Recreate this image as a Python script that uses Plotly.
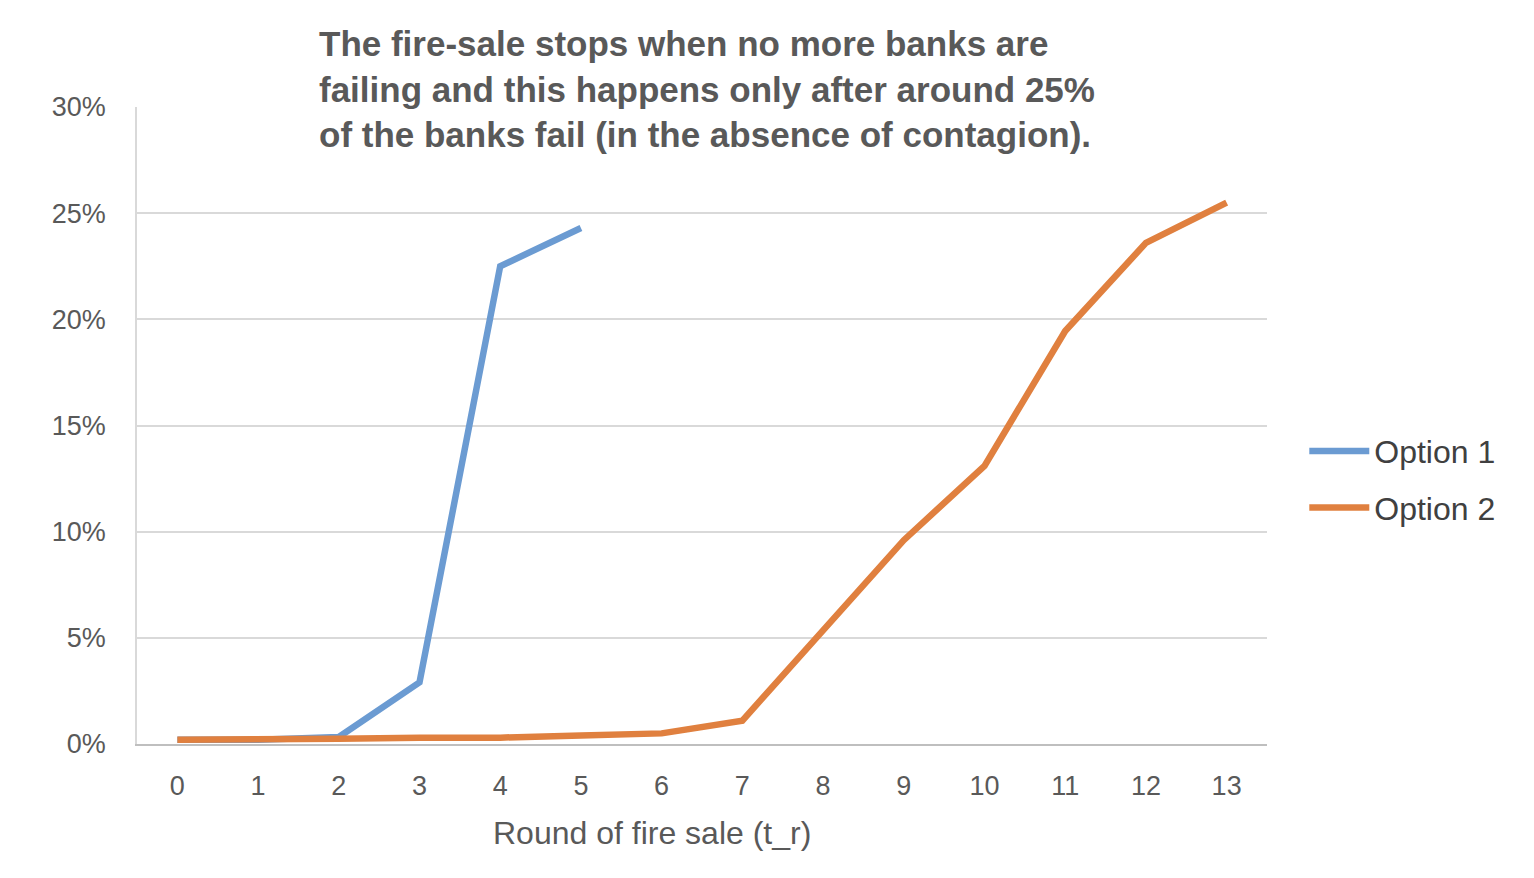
import plotly.graph_objects as go

rounds = list(range(14))
option_1 = [0.002, 0.002, 0.0033, 0.029, 0.225, 0.243]
option_2 = [0.002, 0.002, 0.0025, 0.003, 0.003, 0.004, 0.005, 0.011,
            0.053, 0.096, 0.131, 0.1945, 0.236, 0.255]
y_ticks = [0, 0.05, 0.10, 0.15, 0.20, 0.25, 0.30]

title_text = ("The fire-sale stops when no more banks are<br>"
              "failing and this happens only after around 25%<br>"
              "of the banks fail (in the absence of contagion).")

fig = go.Figure()
fig.add_trace(go.Scatter(
    x=rounds[:len(option_1)], y=option_1, name="Option 1", mode="lines",
    legendgroup="o1", line=dict(color="#6B9BD2", width=6.5)
))
fig.add_trace(go.Scatter(
    x=rounds, y=option_2, name="Option 2", mode="lines",
    legendgroup="o2", line=dict(color="#E0803F", width=6.5)
))

# page is drawn with an 8px body offset, margins account for it
fig.update_layout(
    width=1534, height=878,
    margin=dict(l=129, r=275, t=99, b=142),
    plot_bgcolor="white", paper_bgcolor="white",
    font=dict(family="Liberation Sans, Arial, sans-serif", size=27, color="#595959"),
    legend=dict(x=1.033, y=0.415, xanchor="left", yanchor="middle",
                traceorder="grouped", tracegroupgap=12, itemwidth=60,
                font=dict(size=32, color="#404040")),
)
fig.update_xaxes(
    tickmode="array", tickvals=rounds, ticktext=[str(r) for r in rounds],
    range=[-0.5, 13.5], showgrid=False, zeroline=False,
    showline=True, linecolor="#BFBFBF", linewidth=1.5,
    ticks="", ticklabelstandoff=17,
)
fig.update_yaxes(
    tickvals=y_ticks, tickformat=".0%", range=[0, 0.30],
    showgrid=True, gridcolor="#D9D9D9", gridwidth=1.5, zeroline=False,
    showline=True, linecolor="#D9D9D9", linewidth=1.5, ticks="", ticklabelstandoff=24,
)
fig.add_annotation(
    xref="paper", yref="paper", x=0.456, y=-0.14, xanchor="center", yanchor="middle",
    text="Round of fire sale (t_r)", showarrow=False,
    font=dict(size=32, color="#595959"),
)
fig.add_annotation(
    xref="paper", yref="paper", x=0.1457, y=1.029, xanchor="left", yanchor="middle",
    text="<b>" + title_text + "</b>", showarrow=False, align="left",
    font=dict(size=35, color="#595959"), bgcolor="white", borderpad=16,
)

fig.write_html("out.html")
